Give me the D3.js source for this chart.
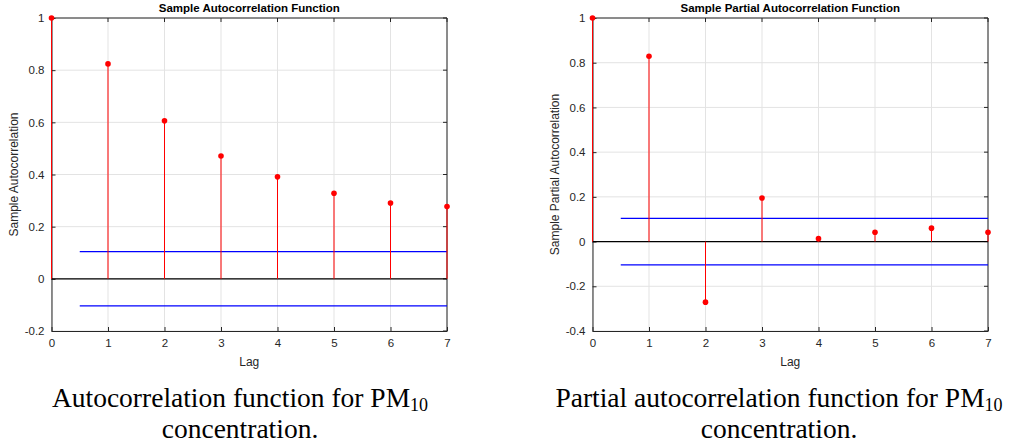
<!DOCTYPE html>
<html>
<head>
<meta charset="utf-8">
<script src="https://cdn.jsdelivr.net/npm/d3@7"></script>
<style>
  body { margin: 0; background: #fff; }
  svg { display: block; }
</style>
</head>
<body>
<svg width="1030" height="448"></svg>
<script>
const lags = [0, 1, 2, 3, 4, 5, 6, 7];
const acfValues = [1, 0.824, 0.606, 0.471, 0.391, 0.328, 0.291, 0.277];
const pacfValues = [1, 0.829, -0.271, 0.195, 0.013, 0.042, 0.060, 0.042];
const confBound = 0.104;
const acfTicks = [-0.2, 0, 0.2, 0.4, 0.6, 0.8, 1];
const pacfTicks = [-0.4, -0.2, 0, 0.2, 0.4, 0.6, 0.8, 1];

const svg = d3.select("svg");
const axisColor = "#262626";
const sans = "'Liberation Sans', Arial, sans-serif";
const serif = "'Liberation Serif', 'Times New Roman', serif";

const drawPanel = (opts) => {
  const g = svg.append("g");
  const x = d3.scaleLinear().domain([0, 7]).range([opts.left, opts.right]);
  const y = d3.scaleLinear().domain(opts.yDomain).range([opts.bottom, opts.top]);

  // grid
  g.selectAll(".gx").data(lags).enter().append("line")
    .attr("x1", d => x(d)).attr("x2", d => x(d))
    .attr("y1", opts.top).attr("y2", opts.bottom)
    .attr("stroke", "#e3e3e3").attr("stroke-width", 1);
  g.selectAll(".gy").data(opts.ticks).enter().append("line")
    .attr("x1", opts.left).attr("x2", opts.right)
    .attr("y1", d => y(d)).attr("y2", d => y(d))
    .attr("stroke", "#e3e3e3").attr("stroke-width", 1);

  // axes with inward ticks
  const xAxis = d3.axisBottom(x).tickValues(lags).tickSizeInner(-4).tickSizeOuter(0).tickPadding(8)
    .tickFormat(d3.format("d"));
  const yAxis = d3.axisLeft(y).tickValues(opts.ticks).tickSizeInner(-4).tickSizeOuter(0).tickPadding(7)
    .tickFormat(d => String(+d.toFixed(1)));
  const gx = g.append("g").attr("transform", "translate(0," + opts.bottom + ")").call(xAxis);
  const gy = g.append("g").attr("transform", "translate(" + opts.left + ",0)").call(yAxis);
  [gx, gy].forEach(a => {
    a.selectAll("path,line").attr("stroke", axisColor);
    a.selectAll("text").attr("fill", axisColor)
      .style("font-family", sans).style("font-size", "11.5px");
  });
  // top and right box lines + ticks
  g.append("line").attr("x1", opts.left).attr("x2", opts.right)
    .attr("y1", opts.top).attr("y2", opts.top).attr("stroke", axisColor);
  g.append("line").attr("x1", opts.right).attr("x2", opts.right)
    .attr("y1", opts.top).attr("y2", opts.bottom).attr("stroke", axisColor);
  g.selectAll(".tt").data(lags).enter().append("line")
    .attr("x1", d => x(d)).attr("x2", d => x(d))
    .attr("y1", opts.top).attr("y2", opts.top + 4).attr("stroke", axisColor);
  g.selectAll(".tr").data(opts.ticks).enter().append("line")
    .attr("x1", opts.right - 4).attr("x2", opts.right)
    .attr("y1", d => y(d)).attr("y2", d => y(d)).attr("stroke", axisColor);

  // confidence bounds
  [confBound, -confBound].forEach(b => {
    g.append("line").attr("x1", x(0.5)).attr("x2", x(7))
      .attr("y1", y(b)).attr("y2", y(b))
      .attr("stroke", "#0000ff").attr("stroke-width", 1.2);
  });

  // zero line
  g.append("line").attr("x1", x(0)).attr("x2", x(7))
    .attr("y1", y(0)).attr("y2", y(0))
    .attr("stroke", "#000").attr("stroke-width", 1.3);

  // stems
  g.selectAll(".stem").data(opts.values).enter().append("line")
    .attr("x1", (d, i) => x(lags[i])).attr("x2", (d, i) => x(lags[i]))
    .attr("y1", y(0)).attr("y2", d => y(d))
    .attr("stroke", "#ff0000").attr("stroke-width", 1);
  g.selectAll(".dot").data(opts.values).enter().append("circle")
    .attr("cx", (d, i) => x(lags[i])).attr("cy", d => y(d))
    .attr("r", 2.8).attr("fill", "#ff0000");

  // labels
  g.append("text").attr("x", (opts.left + opts.right) / 2).attr("y", 12)
    .attr("text-anchor", "middle").attr("fill", "#000")
    .style("font-family", sans)
    .style("font-size", "11.5px").style("font-weight", "bold")
    .text(opts.title);
  g.append("text").attr("x", (opts.left + opts.right) / 2).attr("y", 366)
    .attr("text-anchor", "middle").attr("fill", axisColor)
    .style("font-family", sans).style("font-size", "12px")
    .text("Lag");
  g.append("text")
    .attr("transform", "translate(" + opts.ylabelX + "," + (opts.top + opts.bottom) / 2 + ") rotate(-90)")
    .attr("text-anchor", "middle").attr("fill", axisColor)
    .style("font-family", sans).style("font-size", "12px")
    .text(opts.ylabel);

  // caption
  const cx = opts.captionX;
  const cap = g.append("text").attr("x", cx).attr("y", 407).attr("text-anchor", "middle")
    .attr("fill", "#000")
    .style("font-family", serif).style("font-size", "27.5px");
  cap.append("tspan").text(opts.caption + " PM");
  cap.append("tspan").attr("dy", 4).style("font-size", "18px").text("10");
  g.append("text").attr("x", cx).attr("y", 438).attr("text-anchor", "middle")
    .attr("fill", "#000")
    .style("font-family", serif).style("font-size", "27.5px")
    .text("concentration.");
};

drawPanel({
  left: 51.5, right: 447, top: 18, bottom: 331,
  yDomain: [-0.2, 1], ticks: acfTicks, values: acfValues,
  title: "Sample Autocorrelation Function",
  ylabel: "Sample Autocorrelation", ylabelX: 18,
  caption: "Autocorrelation function for", captionX: 240
});

drawPanel({
  left: 592.5, right: 988, top: 18, bottom: 331,
  yDomain: [-0.4, 1], ticks: pacfTicks, values: pacfValues,
  title: "Sample Partial Autocorrelation Function",
  ylabel: "Sample Partial Autocorrelation", ylabelX: 559,
  caption: "Partial autocorrelation function for", captionX: 779
});
</script>
</body>
</html>
